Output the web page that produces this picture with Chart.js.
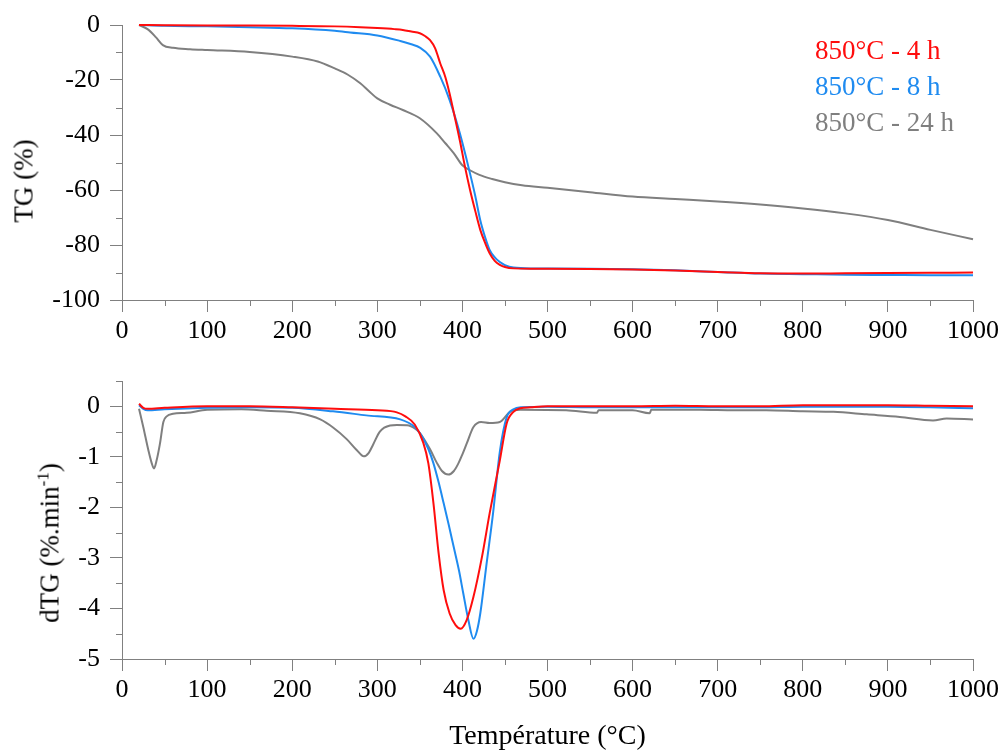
<!DOCTYPE html>
<html>
<head>
<meta charset="utf-8">
<script src="https://cdn.jsdelivr.net/npm/chart.js@4"></script>
<style>
  body { margin:0; background:#fff; width:1003px; height:753px; position:relative; overflow:hidden; font-family:'Liberation Serif', serif; }
  canvas { position:absolute; left:0; }
  #top { top:0; }
  #bot { top:350px; }
  .ytitle { position:absolute; transform:translate(-50%,-50%) rotate(-90deg); white-space:nowrap; font-size:27px; color:#000; }
  .ytitle sup { font-size:17px; vertical-align:10px; line-height:0; }
  #legend { position:absolute; left:815px; top:32px; font-size:27px; line-height:36px; white-space:nowrap; }
</style>
</head>
<body>
<canvas id="top" width="1003" height="350"></canvas>
<canvas id="bot" width="1003" height="403"></canvas>
<div class="ytitle" style="left:24px; top:181px;">TG (%)</div>
<div class="ytitle" style="left:50px; top:543px;">dTG (%.min<sup>-1</sup>)</div>
<div id="legend"></div>
<script>
// series
const seriesNames = ['850°C - 4 h', '850°C - 8 h', '850°C - 24 h'];
const seriesColors = ['#ff0d0d', '#1f8bf0', '#7f7f7f'];

// ticks
const xTicks = [0, 100, 200, 300, 400, 500, 600, 700, 800, 900, 1000];
const xMinor = [50, 150, 250, 350, 450, 550, 650, 750, 850, 950];
const tgTicks = [-100, -80, -60, -40, -20, 0];
const tgMinor = [-90, -70, -50, -30, -10];
const dtgTicks = [-5, -4, -3, -2, -1, 0];
const dtgMinor = [-4.5, -3.5, -2.5, -1.5, -0.5, 0.5];

// TG (%) - 4 h
const tg4hT = [20, 50, 100, 150, 200, 250, 280, 300, 320, 330, 340, 350, 356, 362, 368, 374, 380, 385, 390, 397, 403, 409, 415, 421, 427, 432, 438, 444, 450, 460, 480, 500, 550, 600, 650, 700, 750, 800, 850, 900, 950, 1000];
const tg4hV = [0, -0.1, -0.2, -0.2, -0.3, -0.5, -0.8, -1.1, -1.5, -1.8, -2.4, -3.0, -4.0, -5.5, -8.5, -14, -19, -25, -32, -42, -51.5, -60, -67.5, -74.5, -79.5, -83, -85.8, -87.2, -88, -88.5, -88.6, -88.6, -88.7, -88.9, -89.3, -89.8, -90.3, -90.4, -90.3, -90.2, -90.1, -90.0];
// TG (%) - 8 h
const tg8hT = [20, 50, 100, 150, 200, 250, 268, 300, 327, 340, 350, 362, 374, 385, 397, 407, 415, 421, 427, 432, 438, 444, 450, 460, 480, 500, 550, 600, 650, 700, 750, 800, 850, 900, 950, 1000];
const tg8hV = [0, -0.3, -0.5, -0.8, -1.2, -2.1, -2.7, -3.8, -5.8, -7.0, -8.2, -11.5, -18.8, -27.3, -39.4, -51.5, -62, -71, -77.5, -81.8, -84.5, -86.2, -87.3, -88.2, -88.5, -88.5, -88.6, -88.8, -89.2, -89.8, -90.4, -90.6, -90.8, -90.9, -91.0, -91.0];
// TG (%) - 24 h
const tg24hT = [20, 30, 40, 48, 60, 80, 100, 150, 200, 230, 250, 265, 280, 290, 300, 315, 330, 350, 370, 380, 390, 400, 410, 420, 435, 450, 470, 500, 550, 600, 650, 700, 750, 800, 850, 900, 950, 1000];
const tg24hV = [0, -1.5, -4.5, -7.3, -8.3, -8.8, -9.1, -9.8, -11.5, -13.3, -15.8, -18, -21.2, -24, -26.7, -29, -30.9, -33.9, -39.4, -43, -46.7, -51, -53, -54.5, -56, -57.2, -58.3, -59.2, -60.8, -62.4, -63.3, -64.2, -65.3, -66.7, -68.5, -70.9, -74.5, -77.9];

// dTG (%/min) - 4 h
const dtg4hT = [20, 25, 30, 50, 100, 150, 200, 250, 300, 323, 333, 344, 354, 360, 366, 372, 378, 385, 392, 398, 405, 413, 423, 432, 444, 452, 460, 468, 480, 500, 550, 600, 650, 700, 750, 800, 850, 900, 950, 1000];
const dtg4hV = [0.05, -0.03, -0.05, -0.03, 0, 0, -0.02, -0.05, -0.08, -0.12, -0.2, -0.36, -0.72, -1.13, -1.92, -2.9, -3.64, -4.1, -4.33, -4.4, -4.23, -3.77, -2.98, -2.12, -1.07, -0.34, -0.11, -0.04, -0.02, 0, 0, 0, 0.01, 0, 0, 0.02, 0.02, 0.02, 0.01, 0];
// dTG (%/min) - 8 h
const dtg8hT = [20, 25, 30, 50, 100, 150, 200, 248, 287, 327, 344, 352, 360, 366, 372, 378, 384, 390, 396, 401, 407, 413, 417, 421, 428, 436, 444, 452, 460, 470, 500, 550, 600, 650, 700, 750, 800, 850, 900, 950, 1000];
const dtg8hV = [0.02, -0.05, -0.08, -0.06, -0.03, -0.02, -0.03, -0.1, -0.18, -0.26, -0.41, -0.58, -0.85, -1.13, -1.5, -1.92, -2.35, -2.8, -3.25, -3.7, -4.23, -4.6, -4.45, -4.1, -3.17, -2.12, -0.9, -0.22, -0.06, -0.02, -0.01, -0.02, -0.02, -0.02, -0.02, -0.02, -0.01, -0.01, -0.01, -0.02, -0.04];
// dTG (%/min) - 24 h
const dtg24hT = [20, 25, 31, 35, 37.6, 40.7, 44.6, 48.6, 52.5, 60, 76, 100, 140, 170, 209, 233, 248, 264, 276, 284, 290, 295, 303, 315, 323, 335, 345, 350, 362, 370, 376, 383.5, 390, 395, 400, 405, 413, 422, 432, 444, 456, 468, 522, 558, 560, 600, 620, 622, 679, 720, 757, 800, 836, 875, 914, 953, 969, 1000];
const dtg24hV = [-0.05, -0.41, -0.87, -1.13, -1.23, -1.07, -0.74, -0.31, -0.2, -0.15, -0.13, -0.07, -0.06, -0.09, -0.14, -0.26, -0.42, -0.65, -0.87, -0.99, -0.92, -0.76, -0.5, -0.38, -0.37, -0.375, -0.45, -0.53, -0.85, -1.12, -1.28, -1.35, -1.28, -1.14, -0.95, -0.74, -0.41, -0.31, -0.33, -0.31, -0.11, -0.07, -0.08, -0.13, -0.08, -0.08, -0.14, -0.07, -0.07, -0.08, -0.08, -0.1, -0.11, -0.16, -0.21, -0.28, -0.24, -0.26];

const axisGrey = '#808080';
Chart.defaults.font.family = "'Liberation Serif', serif";
Chart.defaults.font.size = 26;
Chart.defaults.color = '#000';

function pts(xs, ys) {
  return xs.map((x, i) => ({ x: x, y: ys[i] }));
}

function makeSets(list) {
  return list.map((d, i) => ({
    label: seriesNames[i],
    data: pts(d[0], d[1]),
    borderColor: seriesColors[i],
    borderWidth: 2,
    pointRadius: 0,
    cubicInterpolationMode: 'monotone',
    clip: 6
  }));
}

// small ticks between the labelled ones
function minorPlugin(xs, ys) {
  return {
    id: 'minorTicks',
    afterDraw(chart) {
      const ctx = chart.ctx, x = chart.scales.x, y = chart.scales.y;
      ctx.save();
      ctx.strokeStyle = axisGrey;
      ctx.lineWidth = 1;
      ctx.beginPath();
      xs.forEach(v => {
        const px = Math.round(x.getPixelForValue(v)) + 0.5;
        ctx.moveTo(px, y.bottom);
        ctx.lineTo(px, y.bottom + 6);
      });
      ys.forEach(v => {
        const py = Math.round(y.getPixelForValue(v)) + 0.5;
        ctx.moveTo(x.left - 6, py);
        ctx.lineTo(x.left, py);
      });
      ctx.stroke();
      ctx.restore();
    }
  };
}

function axisOpts(ticks, extra) {
  return Object.assign({
    type: 'linear',
    afterBuildTicks: s => { s.ticks = ticks.map(v => ({ value: v })); },
    grid: { drawOnChartArea: false, tickLength: 12, color: axisGrey, lineWidth: 1 },
    border: { color: axisGrey, width: 1 },
    ticks: { autoSkip: false, maxRotation: 0, callback: v => String(v), color: '#000' }
  }, extra);
}

function makeChart(id, sets, yMin, yMax, yTicks, yMinor, padTop, xHeight, xTitle) {
  const xAxis = axisOpts(xTicks, {
    min: 0, max: 1000, position: 'bottom',
    afterFit: s => { s.height = xHeight; s.paddingLeft = 0; s.paddingRight = 0; }
  });
  xAxis.ticks.padding = 4;
  if (xTitle) {
    xAxis.title = { display: true, text: xTitle, font: { size: 28 }, color: '#000', padding: { top: 0, bottom: 0 } };
  }
  const yAxis = axisOpts(yTicks, {
    min: yMin, max: yMax, position: 'left',
    afterFit: s => { s.width = 122; s.paddingTop = 0; s.paddingBottom = 0; }
  });
  yAxis.ticks.padding = 10;
  return new Chart(document.getElementById(id), {
    type: 'line',
    data: { datasets: sets },
    options: {
      responsive: false,
      animation: false,
      devicePixelRatio: 1,
      layout: { padding: { left: 0, right: 30, top: padTop, bottom: 0 } },
      plugins: { legend: { display: false }, tooltip: { enabled: false } },
      scales: { x: xAxis, y: yAxis }
    },
    plugins: [minorPlugin(xMinor, yMinor)]
  });
}

makeChart('top', makeSets([[tg4hT, tg4hV], [tg8hT, tg8hV], [tg24hT, tg24hV]]),
  -100, 0, tgTicks, tgMinor, 25, 50, null);
makeChart('bot', makeSets([[dtg4hT, dtg4hV], [dtg8hT, dtg8hV], [dtg24hT, dtg24hV]]),
  -5, 0.5, dtgTicks, dtgMinor, 31, 94, 'Température (°C)');

// legend as coloured text
const legend = document.getElementById('legend');
seriesNames.forEach((name, i) => {
  const row = document.createElement('div');
  row.textContent = name;
  row.style.color = seriesColors[i];
  legend.appendChild(row);
});
</script>
</body>
</html>
